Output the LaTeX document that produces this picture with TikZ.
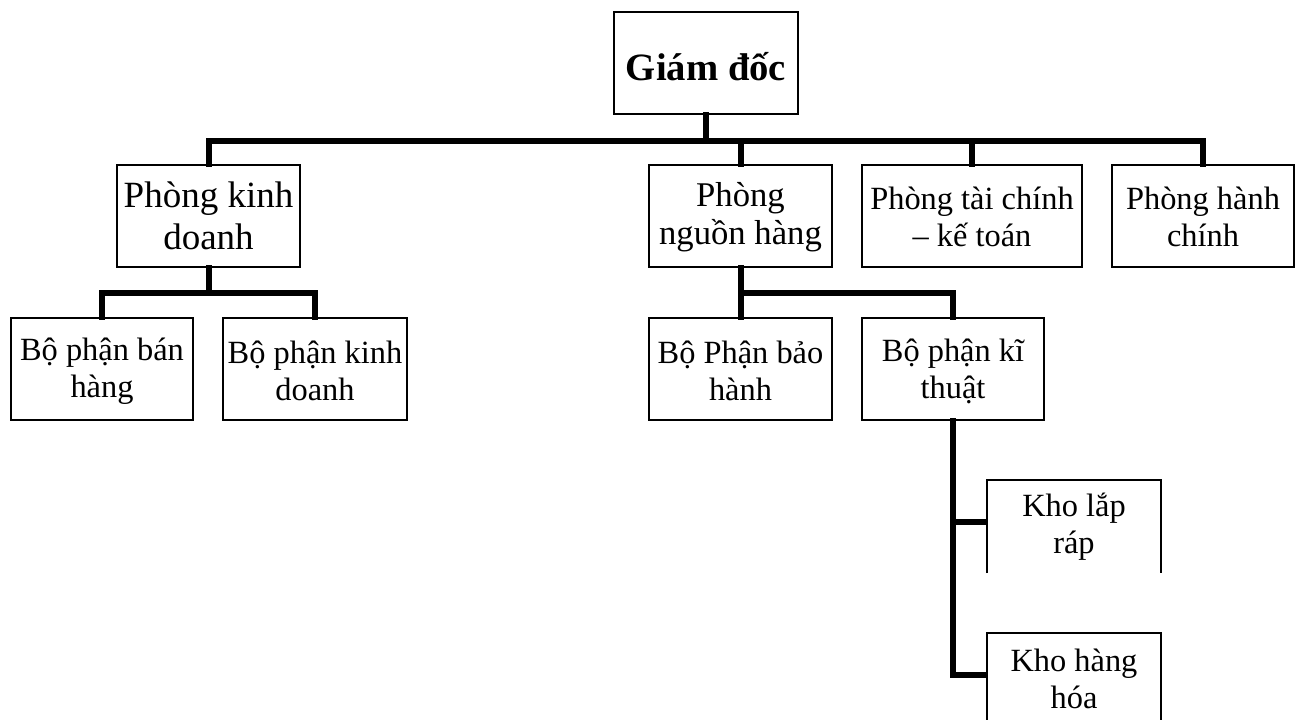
\documentclass[tikz,border=0pt]{standalone}
\usepackage{fontspec}
\setmainfont{Liberation Serif}
\begin{document}
\begin{tikzpicture}[x=0.75pt,y=-0.75pt,
  box/.style={draw=black,line width=1.2pt,inner sep=0pt},
  lbl/.style={inner sep=0pt,align=center,text=black},
  conn/.style={draw=black,line width=4.5pt,line join=miter,line cap=rect},
  openframe/.style={draw=black,line width=0.8pt},
  fa/.style={font=\fontsize{24.3}{27.75}\selectfont},
  fb/.style={font=\fontsize{27.75}{31.5}\selectfont},
  fc/.style={font=\fontsize{26}{28.5}\selectfont},
  fg/.style={font=\bfseries\fontsize{29}{33}\selectfont}]
\useasboundingbox (0,0) rectangle (1300,720);
% #1 name, #2-#5 corners (px), #6 text, #7 font style, #8 text shift down (px)
\newcommand\bx[8]{%
  \node[box,minimum width={(#4-#2)*0.75pt},minimum height={(#5-#3)*0.75pt}] (#1) at ({(#2+#4)/2},{(#3+#5)/2}) {};
  \node[lbl,#7] (#1t) at ({(#2+#4)/2},{(#3+#5)/2+#8}) {#6};}
% top
\bx{gd}{614}{12}{798}{114}{Giám đốc}{fg}{4}
% level 1
\bx{pkd}{117}{165}{300}{267}{Phòng kinh\\doanh}{fb}{0}
\bx{pnh}{649}{165}{832}{267}{Phòng\\nguồn hàng}{fc}{1}
\bx{ptc}{862}{165}{1082}{267}{Phòng tài chính\\– kế toán}{fa}{1}
\bx{phc}{1112}{165}{1294}{267}{Phòng hành\\chính}{fa}{1}
% level 2
\bx{bph}{11}{318}{193}{420}{Bộ phận bán\\hàng}{fa}{2}
\bx{bpkd}{223}{318}{407}{420}{Bộ phận kinh\\doanh}{fa}{2}
\bx{bpbh}{649}{318}{832}{420}{Bộ Phận bảo\\hành}{fa}{2}
\bx{bpkt}{862}{318}{1044}{420}{Bộ phận kĩ\\thuật}{fa}{2}
% Kho boxes (open bottoms)
\draw[openframe] (987,573) -- (987,480) -- (1161,480) -- (1161,573);
\draw[openframe] (987,720) -- (987,633) -- (1161,633) -- (1161,720);
\node[fa,lbl] (klr) at (1074,527) {Kho lắp\\ráp};
\node[fa,lbl] (khh) at (1074,679) {Kho hàng\\hóa};
\coordinate (klrin) at (983,522);
\coordinate (khhin) at (983,675);
% connectors
\coordinate (bar1) at (706,141);
\coordinate (bar2) at (208,293);
\coordinate (bar3) at (741,293);
\draw[conn] (gd.south) -- (gd.south |- bar1);
\draw[conn] (pkd.north) |- (phc.north |- bar1) -- (phc.north);
\draw[conn] (pnh.north) -- (pnh.north |- bar1);
\draw[conn] (ptc.north) -- (ptc.north |- bar1);
\draw[conn] (pkd.south) -- (pkd.south |- bar2);
\draw[conn] (bph.north) |- (bpkd.north |- bar2) -- (bpkd.north);
\draw[conn] (pnh.south) -- (bpbh.north);
\draw[conn] (pnh.south |- bar3) -| (bpkt.north);
\draw[conn] (bpkt.south) |- (khhin);
\draw[conn] (bpkt.south |- klrin) -- (klrin);
\end{tikzpicture}
\end{document}
